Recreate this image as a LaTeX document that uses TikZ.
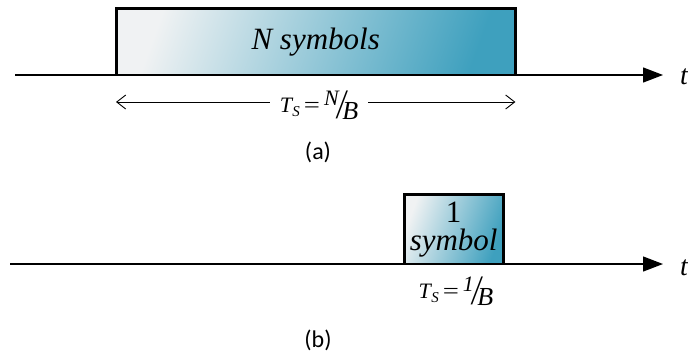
\documentclass[tikz,border=0pt]{standalone}
\usepackage{fontspec}
\setmainfont{Liberation Serif}
\newfontfamily\capfont{Carlito}
\usepackage{graphicx}
\usetikzlibrary{positioning,arrows.meta}
\definecolor{boxlight}{RGB}{240,242,243}
\definecolor{boxteal}{RGB}{62,160,190}
% slanted fraction as in the figure
\newcommand{\slfrac}[2]{\raisebox{0.3em}{\fontsize{22}{22}\selectfont #1}\kern-0.05em\raisebox{-0.3em}{\scalebox{1.4}[1.9]{/}}\kern-0.18em\raisebox{-0.35em}{\fontsize{26}{26}\selectfont #2}}
\newcommand{\tsym}{\textit{T}\kern0.02em\raisebox{-0.2em}{\fontsize{15}{15}\selectfont\textit{S}}}
\newcommand{\eqs}{\kern4pt\scalebox{1.3}[1]{\upshape=}\kern4pt}

\begin{document}
\begin{tikzpicture}[x=1pt,y=-1pt,>={Straight Barb[length=9pt,width=14pt]},
  axis/.style={line width=1.3pt,-{Triangle[length=20pt,width=15pt]}},
  sigbox/.style={inner sep=0pt,left color=boxlight,right color=boxteal,shading angle=70},
  boxedge/.style={line width=3pt},
  spanarrow/.style={line width=0.9pt,->},
  lbl/.style={font=\fontsize{22}{22}\selectfont\itshape,inner sep=10pt,anchor=base},
  caplbl/.style={font=\capfont\fontsize{24}{24}\selectfont}]
\useasboundingbox (0,0) rectangle (688,357);
% (a) a block of N symbols
\node[sigbox,minimum width=399,minimum height=66,anchor=south west,
  font=\fontsize{31}{31}\selectfont\itshape] (nbox) at (116,75) {N symbols};
\draw[boxedge] (nbox.south west) |- (nbox.north east) -- (nbox.south east);
\coordinate (a0) at (15,75);
\coordinate (a1) at (663,75);
\draw[axis] (a0) -- (a1);
\node[font=\fontsize{28}{28}\selectfont\itshape] (ta) at (684,77) {t};
\node[lbl] (tsa) at (319,112) {\tsym\eqs\slfrac{N}{B}};
\coordinate (l) at (nbox.south west |- 0,102);
\coordinate (r) at (nbox.south east |- 0,102);
\draw[spanarrow] (tsa.west |- l) -- (l);
\draw[spanarrow] (tsa.east |- r) -- (r);
\node[caplbl] (capa) at (318,152) {(a)};
% (b) one symbol
\node[sigbox,minimum width=99,minimum height=69,anchor=south west,align=center,
  font=\fontsize{31}{28}\selectfont] (sbox) at (404,264) {1\\\textit{symbol}};
\draw[boxedge] (sbox.south west) |- (sbox.north east) -- (sbox.south east);
\coordinate (b0) at (10,264);
\coordinate (b1) at (663,264);
\draw[axis] (b0) -- (b1);
\node[font=\fontsize{28}{28}\selectfont\itshape] (tb) at (684,268) {t};
\node[lbl] (tsb) at (456,298) {\tsym\eqs\slfrac{1}{B}};
\node[caplbl] (capb) at (318,340) {(b)};
\end{tikzpicture}
\end{document}
